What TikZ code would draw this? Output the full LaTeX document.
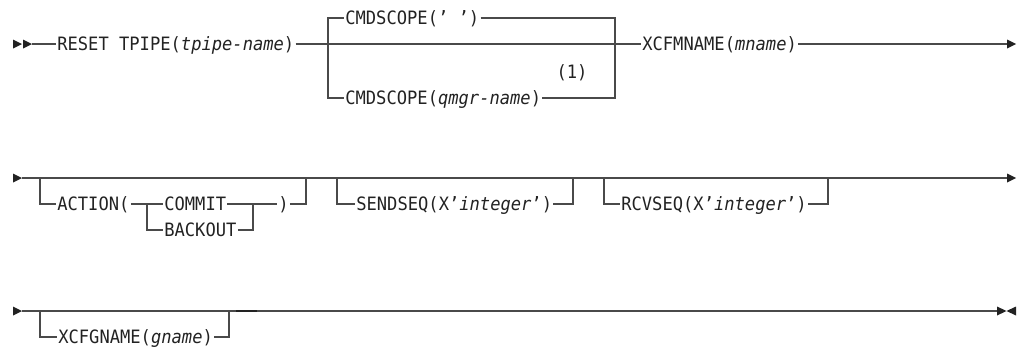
\documentclass[tikz,border=0pt]{standalone}
\usepackage{fontspec}
\setmonofont[FakeStretch=0.93]{DejaVu Sans Mono}
\definecolor{lc}{HTML}{4A4A4A}
\definecolor{tc}{HTML}{222222}
\begin{document}
\begin{tikzpicture}[x=0.75pt,y=-0.75pt,
  ln/.style={line width=1.1pt, draw=lc},
  lbl/.style={font=\fontsize{13.8}{16}\selectfont\ttfamily, text=tc, inner sep=0pt, outer sep=1pt, text height=10.06pt, text depth=0pt, anchor=west},
  tipfill/.style={fill=tc, draw=none}]
\useasboundingbox (0,0) rectangle (1019,347);

% ---------- row 1 ----------
\fill[tipfill] (13,39.5) -- (22,44) -- (13,48.5) -- cycle;
\fill[tipfill] (23,39.5) -- (32,44) -- (23,48.5) -- cycle;
\coordinate (r1s) at (32,44);
\node[lbl] (reset) at (56,44) {RESET TPIPE(\textit{tpipe-name})};
\coordinate (b1l) at (328,44);
\coordinate (b1r) at (615,44);
\node[lbl] (cs1) at (344,18) {CMDSCOPE(’ ’)};
\node[lbl] (cs2) at (344,98) {CMDSCOPE(\textit{qmgr-name})};
\node[lbl, anchor=center] (note) at (572,72) {(1)};
\node[lbl] (xcf) at (641,44) {XCFMNAME(\textit{mname})};
\coordinate (r1e) at (1007,44);
\draw[ln] (r1s) -- (reset.west);
\draw[ln] (reset.east) -- (b1l) -- (b1r) -- (xcf.west);
\draw[ln] (b1l) |- (cs1.west);
\draw[ln] (cs1.east) -| (b1r);
\draw[ln] (b1l) |- (cs2.west);
\draw[ln] (cs2.east) -| (b1r);
\draw[ln] (xcf.east) -- (r1e);
\fill[tipfill] (1007,39.5) -- (1016,44) -- (1007,48.5) -- cycle;

% ---------- row 2 ----------
\fill[tipfill] (13,173.5) -- (22,178) -- (13,182.5) -- cycle;
\coordinate (r2s) at (22,178);
\coordinate (r2e) at (1007,178);
\draw[ln] (r2s) -- (r2e);
\fill[tipfill] (1007,173.5) -- (1016,178) -- (1007,182.5) -- cycle;
% ACTION
\coordinate (a1) at (40,178);
\coordinate (a2) at (306,178);
\node[lbl] (act) at (56,204) {ACTION(};
\coordinate (ai1) at (147,204);
\coordinate (ai2) at (253,204);
\node[lbl] (com) at (163,204) {COMMIT};
\node[lbl] (bak) at (163,230) {BACKOUT};
\node[lbl] (rp) at (277,204) {)};
\draw[ln] (a1) |- (act.west);
\draw[ln] (act.east) -- (ai1) -- (com.west);
\draw[ln] (ai1) |- (bak.west);
\draw[ln] (com.east) -- (ai2) -- (rp.west);
\draw[ln] (bak.east) -| (ai2);
\draw[ln] (rp.east) -| (a2);
% SENDSEQ
\coordinate (s1) at (337,178);
\coordinate (s2) at (573,178);
\node[lbl] (send) at (355,204) {SENDSEQ(X’\textit{integer}’)~};
\draw[ln] (s1) |- (send.west);
\draw[ln] (send.east) -| (s2);
% RCVSEQ
\coordinate (c1) at (604,178);
\coordinate (c2) at (828,178);
\node[lbl] (rcv) at (620,204) {RCVSEQ(X’\textit{integer}’)~};
\draw[ln] (c1) |- (rcv.west);
\draw[ln] (rcv.east) -| (c2);

% ---------- row 3 ----------
\fill[tipfill] (13,306.5) -- (22,311) -- (13,315.5) -- cycle;
\coordinate (r3s) at (22,311);
\coordinate (r3e) at (997,311);
\draw[ln] (r3s) -- (r3e);
\coordinate (g1) at (40,311);
\coordinate (g2) at (229,311);
\node[lbl] (xcfg) at (57,337) {XCFGNAME(\textit{gname})};
\draw[ln] (g1) |- (xcfg.west);
\draw[ln] (xcfg.east) -| (g2);
\coordinate (t1) at (236,311);
\coordinate (t2) at (257,311);
\draw[line width=2.2pt, draw=tc] (t1) -- (t2);
\fill[tipfill] (997,306.5) -- (1006.5,311) -- (997,315.5) -- cycle;
\fill[tipfill] (1016,306.5) -- (1006.5,311) -- (1016,315.5) -- cycle;
\end{tikzpicture}
\end{document}
